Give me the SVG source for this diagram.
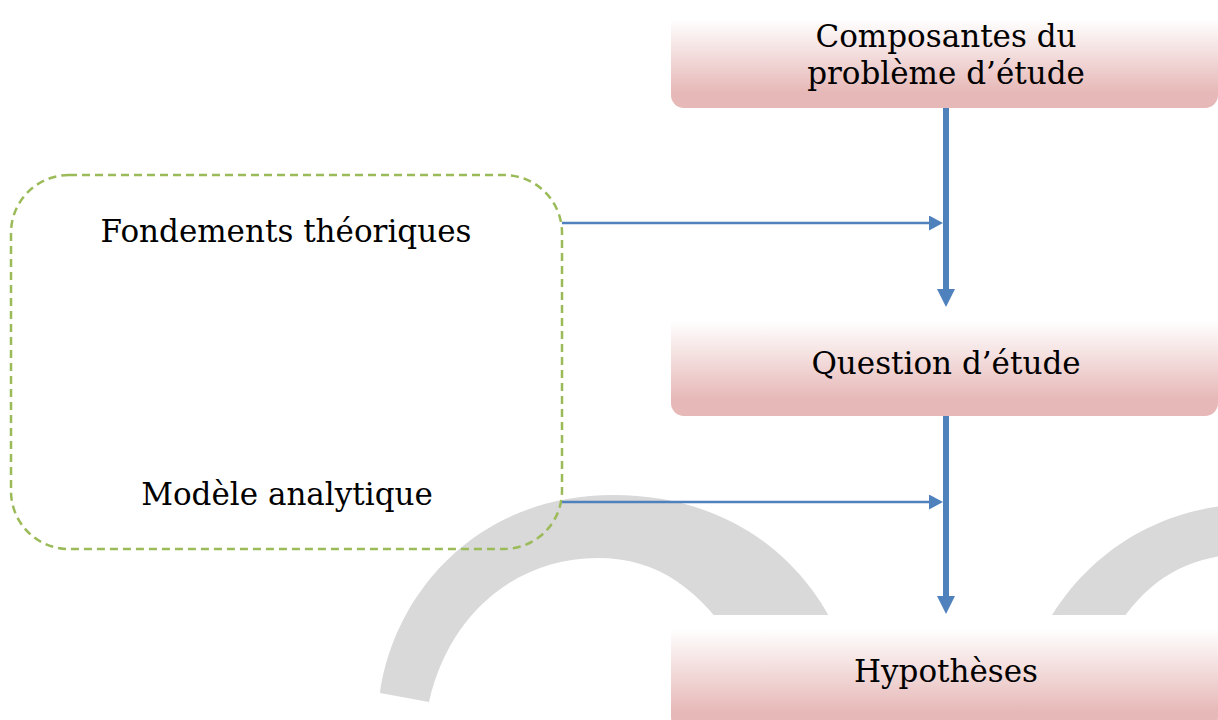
<svg xmlns="http://www.w3.org/2000/svg" width="1218" height="720" viewBox="0 0 1218 720">
<style>
.lbl{font-family:"DejaVu Serif","Liberation Serif",serif;font-size:31px;fill:#000;text-anchor:middle}
.box{fill:url(#pink)}
.arc{fill:#d9d9d9}
.thick{stroke:#4f81bd;stroke-width:6;fill:none}
.thin{stroke:#4f81bd;stroke-width:2.5;fill:none}
.dash{fill:none;stroke:#9bbb59;stroke-width:2.5;stroke-dasharray:8 5}
</style>
<defs>
<linearGradient id="pink" x1="0" y1="0" x2="0" y2="1">
<stop offset="0.12" stop-color="#ffffff"/>
<stop offset="0.85" stop-color="#e6b8b7"/>
</linearGradient>
<marker id="ahThick" markerUnits="userSpaceOnUse" markerWidth="18" markerHeight="18" viewBox="0 0 18 18" refX="6" refY="9" orient="auto">
<path d="M0,0 L18,9 L0,18 z" fill="#4f81bd"/>
</marker>
<marker id="ahThin" markerUnits="userSpaceOnUse" markerWidth="14" markerHeight="15" viewBox="0 0 14 15" refX="4" refY="7.5" orient="auto">
<path d="M0,0 L14,7.5 L0,15 z" fill="#4f81bd"/>
</marker>
</defs>
<rect width="1218" height="720" fill="#ffffff"/>
<g id="background-arcs">
<path class="arc" d="M380,693 C395,590 480,495 613,495 C730,495 810,560 845,650 L740,650 C700,590 660,558 597,558 C520,558 450,610 429,702 Z"/>
<path class="arc" d="M1030,660 C1060,580 1130,515 1230,505 L1230,555 C1180,560 1140,585 1110,640 Z"/>
</g>
<g id="group-left">
<rect class="dash" x="11" y="175" width="551" height="374" rx="58" ry="58"/>
<text class="lbl" x="286" y="242">Fondements théoriques</text>
<text class="lbl" x="287" y="505">Modèle analytique</text>
</g>
<g id="node-composantes">
<rect class="box" x="671" y="7" width="547" height="101" rx="13" ry="13"/>
<text class="lbl" x="946" y="47">Composantes du</text>
<text class="lbl" x="946" y="84">problème d’étude</text>
</g>
<g id="node-question">
<rect class="box" x="671" y="308" width="547" height="108" rx="13" ry="13"/>
<text class="lbl" x="946" y="374">Question d’étude</text>
</g>
<g id="node-hypotheses">
<rect class="box" x="671" y="615" width="547" height="115" rx="13" ry="13"/>
<text class="lbl" x="946" y="682">Hypothèses</text>
</g>
<g id="connectors">
<line class="thick" x1="946" y1="108" x2="946" y2="295" marker-end="url(#ahThick)"/>
<line class="thick" x1="946" y1="416" x2="946" y2="602" marker-end="url(#ahThick)"/>
<line class="thin" x1="562" y1="223" x2="933" y2="223" marker-end="url(#ahThin)"/>
<line class="thin" x1="562" y1="502" x2="933" y2="502" marker-end="url(#ahThin)"/>
</g>
</svg>
